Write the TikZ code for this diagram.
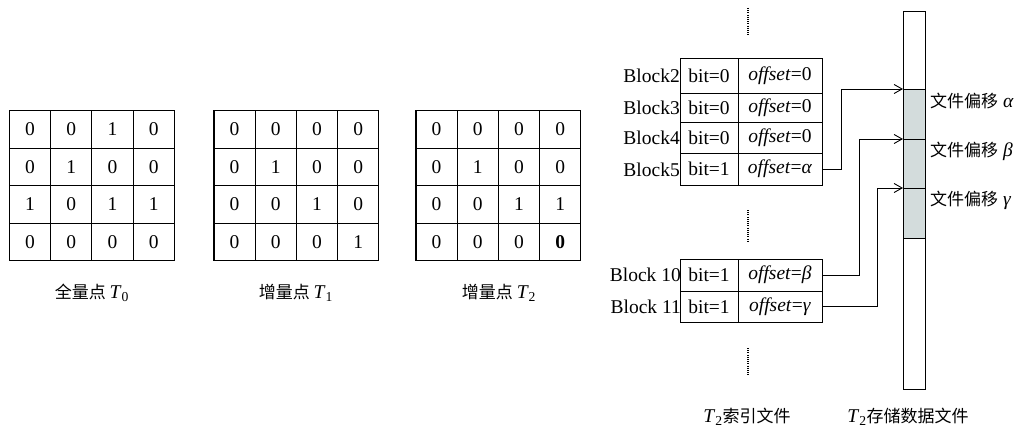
\documentclass[tikz,border=0pt]{standalone}
\usepackage{fontspec}
\setmainfont{Liberation Serif}
\newfontfamily\cjk{Noto Sans CJK SC}
\usetikzlibrary{arrows.meta}
\definecolor{segfill}{HTML}{D3DCDC}
\newcommand\mygrid[4]{%
  \foreach \row [count=\r] in {#4} {
    \foreach \v [count=\c] in \row {
      \node[cell] (#1-\r-\c) at ({#2+(\c-0.5)*41.2},{#3+(\r-0.5)*37.6}) {\v};
    }
  }%
}
\begin{document}
\begin{tikzpicture}[x=1pt,y=-1pt,
  every node/.style={font=\fontsize{19.5}{22}\selectfont, inner sep=0pt},
  cell/.style={draw, line width=1.1pt, minimum width=41.2pt, minimum height=37.6pt, anchor=center},
  tcell/.style={draw, line width=0.9pt, minimum width=58pt, anchor=center},
  ocell/.style={draw, line width=0.9pt, minimum width=84pt, anchor=center},
  blab/.style={anchor=east},
  seg/.style={draw, line width=0.9pt, minimum width=22pt, anchor=north west},
  caption/.style={font=\fontsize{17}{20}\selectfont},
  dots/.style={line width=1.1pt, dash pattern=on 1pt off 1.2pt},
  arr/.style={line width=0.9pt, -{Straight Barb[length=8pt,width=9pt]}}
]
\useasboundingbox (0,0) rectangle (1027,436);

% matrices
\mygrid{ma}{9.5}{110.5}{{0,0,1,0},{0,1,0,0},{1,0,1,1},{0,0,0,0}}
\mygrid{mb}{214}{110.5}{{0,0,0,0},{0,1,0,0},{0,0,1,0},{0,0,0,1}}
\mygrid{mc}{416}{110.5}{{0,0,0,0},{0,1,0,0},{0,0,1,1},{0,0,0,\textbf{0}}}

\node[caption] (ca) at (92,293) {\cjk 全量点\ \normalfont\fontsize{19.5}{22}\selectfont\textit{T}\textsubscript{0}};
\node[caption] (cb) at (296,293) {\cjk 增量点\ \normalfont\fontsize{19.5}{22}\selectfont\textit{T}\textsubscript{1}};
\node[caption] (cc) at (499,293) {\cjk 增量点\ \normalfont\fontsize{19.5}{22}\selectfont\textit{T}\textsubscript{2}};

% index table, upper part
\node[tcell, minimum height=35pt] (b2) at (709,75.5) {bit=0};
\node[ocell, minimum height=35pt] (o2) at (780,75.5) {\textit{offset}=0};
\node[tcell, minimum height=29pt] (b3) at (709,107.5) {bit=0};
\node[ocell, minimum height=29pt] (o3) at (780,107.5) {\textit{offset}=0};
\node[tcell, minimum height=31pt] (b4) at (709,137.5) {bit=0};
\node[ocell, minimum height=31pt] (o4) at (780,137.5) {\textit{offset}=0};
\node[tcell, minimum height=32pt] (b5) at (709,169) {bit=1};
\node[ocell, minimum height=32pt] (o5) at (780,169) {\textit{offset}=\textit{α}};
\node[blab] (l2) at (680,75.5) {Block2};
\node[blab] (l3) at (680,107.5) {Block3};
\node[blab] (l4) at (680,137.5) {Block4};
\node[blab] (l5) at (680,170) {Block5};

% index table, lower part
\node[tcell, minimum height=32pt] (b10) at (709,275) {bit=1};
\node[ocell, minimum height=32pt] (o10) at (780,275) {\textit{offset}=\textit{β}};
\node[tcell, minimum height=31pt] (b11) at (709,306.5) {bit=1};
\node[ocell, minimum height=31pt] (o11) at (780,306.5) {\textit{offset}=\textit{γ}};
\node[blab] (l10) at (681,275) {Block 10};
\node[blab] (l11) at (681,306.5) {Block 11};

% dotted continuations
\draw[dots] (748,8) -- (748,36);
\draw[dots] (748,210) -- (748,243);
\draw[dots] (748,348) -- (748,376);

% storage file
\node[seg, minimum height=78pt] (s0) at (903,11) {};
\node[seg, minimum height=50pt, fill=segfill] (sa) at (903,89) {};
\node[seg, minimum height=49pt, fill=segfill] (sb) at (903,139) {};
\node[seg, minimum height=50pt, fill=segfill] (sc) at (903,188) {};
\node[seg, minimum height=151pt] (s1) at (903,238) {};

\node[anchor=west] (ta) at (930,101) {{\cjk\fontsize{17}{20}\selectfont 文件偏移} \textit{α}};
\node[anchor=west] (tb) at (930,151) {{\cjk\fontsize{17}{20}\selectfont 文件偏移} \textit{β}};
\node[anchor=west] (tc) at (930,200) {{\cjk\fontsize{17}{20}\selectfont 文件偏移} \textit{γ}};

% arrows
\draw[arr] (o5.east) -- ++(19,0) |- (sa.north west);
\draw[arr] (o10.east) -- ++(37,0) |- (sb.north west);
\draw[arr] (o11.east) -- ++(55,0) |- (sc.north west);

% captions
\node (ci) at (747,417) {\textit{T}\textsubscript{2}{\cjk\fontsize{17}{20}\selectfont 索引文件}};
\node (cs) at (908,417) {\textit{T}\textsubscript{2}{\cjk\fontsize{17}{20}\selectfont 存储数据文件}};
\end{tikzpicture}
\end{document}
